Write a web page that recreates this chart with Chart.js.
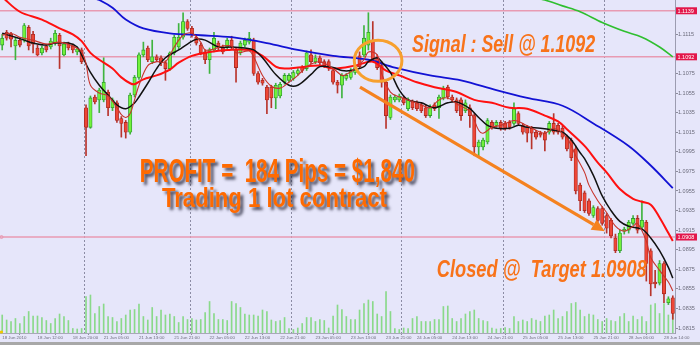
<!DOCTYPE html>
<html><head><meta charset="utf-8">
<script src="https://cdn.jsdelivr.net/npm/chart.js@4.4.1/dist/chart.umd.min.js"></script>
<style>html,body{margin:0;padding:0;background:#e6e6fa;overflow:hidden}canvas{display:block}</style>
</head><body>
<canvas id="c" width="700" height="345"></canvas>
<script>
// ---- EURUSD H1 candles ----
const candleOpen = [
1.1104,1.1117,1.1115,1.1103,1.1109,1.1109,1.1122,1.1115,1.1101,1.1096,
1.1103,1.1102,1.1106,1.1114,1.1094,1.1106,1.1103,1.1097,1.1099,1.1040,
1.1020,1.1051,1.1048,1.1048,1.1056,1.1040,1.1045,1.1029,1.1025,1.1015,
1.1053,1.1071,1.1094,1.1101,1.1087,1.1092,1.1091,1.1086,1.1080,1.1096,
1.1102,1.1112,1.1128,1.1121,1.1112,1.1104,1.1097,1.1089,1.1099,1.1106,
1.1102,1.1102,1.1109,1.1099,1.1096,1.1104,1.1107,1.1109,1.1075,1.1068,
1.1061,1.1061,1.1050,1.1052,1.1066,1.1068,1.1070,1.1075,1.1081,1.1080,
1.1094,1.1087,1.1091,1.1087,1.1087,1.1078,1.1066,1.1063,1.1070,1.1071,
1.1076,1.1093,1.1094,1.1104,1.1109,1.1091,1.1083,1.1066,1.1030,1.1048,
1.1048,1.1050,1.1039,1.1046,1.1045,1.1043,1.1040,1.1032,1.1043,1.1040,
1.1050,1.1061,1.1051,1.1048,1.1048,1.1037,1.1040,1.1032,1.1000,1.1000,
1.1005,1.1025,1.1022,1.1025,1.1024,1.1025,1.1024,1.1034,1.1022,1.1020,
1.1019,1.1015,1.1014,1.1014,1.1015,1.1024,1.1022,1.1019,1.1010,1.1007,
1.0998,1.0961,1.0953,1.0945,1.0930,1.0937,1.0937,1.0930,1.0925,1.0907,
1.0894,1.0914,1.0915,1.0922,1.0927,1.0918,1.0923,1.0894,1.0862,1.0861,
1.0881,1.0841,1.0846];
const candleHigh = [
1.1115,1.1119,1.1117,1.1111,1.1112,1.1126,1.1124,1.1118,1.1104,1.1103,
1.1105,1.1111,1.1119,1.1116,1.1107,1.1107,1.1105,1.1102,1.1101,1.1043,
1.1052,1.1053,1.1060,1.1091,1.1058,1.1050,1.1047,1.1031,1.1027,1.1055,
1.1073,1.1096,1.1107,1.1103,1.1109,1.1094,1.1093,1.1088,1.1097,1.1114,
1.1126,1.1137,1.1130,1.1123,1.1114,1.1106,1.1099,1.1101,1.1117,1.1108,
1.1104,1.1111,1.1113,1.1101,1.1108,1.1111,1.1117,1.1111,1.1077,1.1070,
1.1063,1.1063,1.1065,1.1066,1.1075,1.1075,1.1078,1.1080,1.1083,1.1098,
1.1099,1.1094,1.1093,1.1089,1.1089,1.1080,1.1068,1.1075,1.1075,1.1080,
1.1083,1.1097,1.1124,1.1137,1.1128,1.1094,1.1087,1.1068,1.1053,1.1053,
1.1054,1.1052,1.1050,1.1048,1.1047,1.1045,1.1043,1.1043,1.1045,1.1053,
1.1062,1.1063,1.1053,1.1050,1.1050,1.1048,1.1043,1.1034,1.1007,1.1009,
1.1029,1.1027,1.1027,1.1027,1.1026,1.1027,1.1045,1.1036,1.1024,1.1022,
1.1021,1.1017,1.1016,1.1016,1.1026,1.1034,1.1024,1.1021,1.1012,1.1009,
1.1001,1.0963,1.0955,1.0947,1.0940,1.0939,1.0939,1.0932,1.0927,1.0911,
1.0915,1.0918,1.0925,1.0930,1.0930,1.0945,1.0925,1.0896,1.0874,1.0884,
1.0883,1.0847,1.0848];
const candleLow = [
1.1099,1.1109,1.1102,1.1089,1.1102,1.1107,1.1099,1.1096,1.1093,1.1094,
1.1097,1.1100,1.1104,1.1080,1.1093,1.1099,1.1096,1.1094,1.1085,1.0991,
1.1019,1.1044,1.1035,1.1046,1.1032,1.1037,1.1025,1.1010,1.1009,1.1013,
1.1051,1.1069,1.1092,1.1087,1.1085,1.1087,1.1083,1.1068,1.1078,1.1094,
1.1100,1.1110,1.1119,1.1112,1.1104,1.1094,1.1085,1.1075,1.1097,1.1099,
1.1095,1.1100,1.1100,1.1066,1.1094,1.1102,1.1105,1.1073,1.1064,1.1063,
1.1034,1.1040,1.1039,1.1050,1.1064,1.1066,1.1068,1.1073,1.1076,1.1078,
1.1085,1.1085,1.1083,1.1081,1.1078,1.1064,1.1055,1.1050,1.1068,1.1069,
1.1074,1.1080,1.1092,1.1099,1.1087,1.1079,1.1061,1.1019,1.1028,1.1046,
1.1046,1.1043,1.1037,1.1038,1.1037,1.1035,1.1030,1.1030,1.1037,1.1029,
1.1048,1.1049,1.1046,1.1035,1.1027,1.1035,1.1020,1.0991,1.0989,1.0997,
1.1003,1.1018,1.1020,1.1017,1.1017,1.1018,1.1022,1.1022,1.1013,1.1005,
1.0998,1.1008,1.1010,1.0996,1.1013,1.1013,1.1013,1.1008,1.0996,1.0986,
1.0952,1.0935,1.0933,1.0930,1.0928,1.0923,1.0920,1.0912,1.0907,1.0892,
1.0892,1.0911,1.0912,1.0920,1.0912,1.0916,1.0863,1.0848,1.0856,1.0859,
1.0841,1.0839,1.0824];
const candleClose = [
1.1111,1.1111,1.1110,1.1109,1.1104,1.1124,1.1103,1.1105,1.1094,1.1101,
1.1099,1.1108,1.1116,1.1103,1.1105,1.1101,1.1099,1.1100,1.1087,1.1020,
1.1050,1.1046,1.1058,1.1066,1.1040,1.1048,1.1027,1.1024,1.1015,1.1053,
1.1071,1.1094,1.1099,1.1089,1.1092,1.1089,1.1086,1.1080,1.1096,1.1112,
1.1112,1.1128,1.1121,1.1114,1.1106,1.1096,1.1089,1.1099,1.1111,1.1101,
1.1097,1.1109,1.1102,1.1081,1.1106,1.1109,1.1111,1.1075,1.1066,1.1065,
1.1048,1.1050,1.1063,1.1064,1.1073,1.1073,1.1076,1.1078,1.1078,1.1096,
1.1087,1.1091,1.1086,1.1083,1.1081,1.1066,1.1063,1.1073,1.1073,1.1078,
1.1081,1.1082,1.1111,1.1117,1.1089,1.1081,1.1066,1.1032,1.1051,1.1051,
1.1052,1.1045,1.1048,1.1040,1.1039,1.1037,1.1032,1.1040,1.1039,1.1051,
1.1060,1.1051,1.1048,1.1037,1.1032,1.1045,1.1032,1.1000,1.1005,1.1007,
1.1027,1.1020,1.1025,1.1019,1.1019,1.1020,1.1039,1.1024,1.1015,1.1014,
1.1014,1.1010,1.1012,1.1007,1.1024,1.1015,1.1015,1.1010,1.0998,1.0989,
1.0955,1.0945,1.0935,1.0932,1.0938,1.0925,1.0922,1.0917,1.0909,1.0894,
1.0912,1.0916,1.0923,1.0927,1.0915,1.0925,1.0881,1.0860,1.0860,1.0881,
1.0850,1.0845,1.0830];
const volume = [
1800,1300,1150,1450,950,1650,2150,1700,1700,1550,
1250,950,1450,1900,1650,1250,450,400,450,3650,
3800,1950,2650,2900,1650,1550,1150,1450,1800,2300,
2350,2900,1650,1300,2550,1650,2300,1800,1900,1650,
1050,1650,1350,1450,1300,1350,2050,3150,1950,1350,
1350,1250,3150,2950,2550,1900,1800,1800,1700,2300,
2150,1300,1150,1250,1550,450,350,500,950,1550,
1550,1150,1350,1250,500,1700,2800,2350,1650,1350,
1350,2300,2950,3300,3150,1900,1650,4150,2150,450,
350,500,450,1450,1650,1150,1150,1150,1350,1350,
2650,2700,1450,1150,1450,1900,2150,2300,1450,1250,
1150,500,400,450,550,450,1650,1150,1300,1150,
1450,1300,1150,1700,1800,2300,1450,1650,2150,2950,
3050,2300,1650,1900,1800,1350,1150,1450,1250,1150,
1650,1950,1150,1700,1350,1650,1150,2800,2950,1950,
2950,1800,2950];

const maFastIdx = [0,2,4,7,10,13,16,18,19,20,22,24,26,27,28,29,30,31,33,35,37,39,41,43,45,46,48,50,52,53,56,57,59,61,63,65,67,69,72,75,77,78,80,82,83,85,86,88,90,92,95,97,99,101,103,106,108,109,111,113,116,118,121,123,125,128,130,132,133,135,137,139,141,143,144,146,147,149,151,152];
const maFastVal = [1.1114,1.1116,1.1112,1.1109,1.1105,1.1107,1.1103,1.1097,1.1085,1.1063,1.1055,1.1052,1.1040,1.1033,1.1030,1.1034,1.1048,1.1063,1.1083,1.1087,1.1087,1.1102,1.1114,1.1116,1.1107,1.1099,1.1100,1.1103,1.1103,1.1096,1.1098,1.1092,1.1073,1.1062,1.1060,1.1066,1.1073,1.1082,1.1087,1.1080,1.1073,1.1074,1.1080,1.1089,1.1097,1.1094,1.1075,1.1056,1.1051,1.1048,1.1043,1.1040,1.1048,1.1050,1.1044,1.1036,1.1017,1.1014,1.1020,1.1022,1.1027,1.1024,1.1017,1.1014,1.1019,1.1009,1.0991,1.0974,1.0961,1.0945,1.0933,1.0919,1.0914,1.0919,1.0922,1.0904,1.0887,1.0874,1.0862,1.0853];
const maBlackIdx = [0,3,5,7,10,12,15,17,18,20,22,24,26,28,30,31,33,35,37,40,42,44,46,49,52,55,57,59,62,65,67,70,72,75,77,79,82,83,85,86,88,90,92,95,98,101,103,106,108,110,112,115,117,119,122,125,127,129,131,132,134,136,138,140,142,145,147,149,151,152];
const maBlackVal = [1.1116,1.1112,1.1109,1.1106,1.1104,1.1106,1.1106,1.1102,1.1094,1.1076,1.1063,1.1053,1.1043,1.1039,1.1045,1.1051,1.1065,1.1080,1.1091,1.1099,1.1105,1.1110,1.1109,1.1102,1.1102,1.1101,1.1099,1.1091,1.1074,1.1063,1.1063,1.1074,1.1082,1.1081,1.1078,1.1078,1.1082,1.1087,1.1091,1.1087,1.1076,1.1058,1.1048,1.1045,1.1040,1.1045,1.1046,1.1039,1.1030,1.1022,1.1019,1.1019,1.1022,1.1020,1.1019,1.1017,1.1015,1.1007,1.0994,1.0988,1.0971,1.0950,1.0935,1.0924,1.0919,1.0916,1.0907,1.0894,1.0877,1.0866];
const maRedIdx = [0,4,9,13,16,18,20,22,25,27,29,30,32,35,38,40,43,47,51,56,59,62,64,67,72,75,80,84,87,90,94,98,103,107,111,115,119,123,126,128,132,135,137,140,143,145,147,149,151,152];
const maRedVal = [1.1153,1.1138,1.1130,1.1121,1.1115,1.1108,1.1096,1.1089,1.1080,1.1071,1.1065,1.1064,1.1069,1.1073,1.1079,1.1086,1.1093,1.1097,1.1099,1.1099,1.1093,1.1082,1.1080,1.1081,1.1083,1.1080,1.1083,1.1087,1.1078,1.1073,1.1066,1.1061,1.1056,1.1048,1.1045,1.1040,1.1039,1.1032,1.1026,1.1018,1.1001,1.0984,1.0974,1.0957,1.0947,1.0944,1.0941,1.0928,1.0912,1.0904];
const maBlueIdx = [18,20,22,25,28,32,38,45,52,60,67,75,83,89,97,104,112,119,127,134,142,147,152];
const maBlueVal = [1.1163,1.1153,1.1150,1.1142,1.1130,1.1121,1.1116,1.1114,1.1112,1.1106,1.1099,1.1093,1.1089,1.1081,1.1073,1.1068,1.1058,1.1050,1.1042,1.1024,1.1001,1.0981,1.0958];
const maGreenIdx = [119,121,123,127,131,136,141,145,149,152];
const maGreenVal = [1.1156,1.1152,1.1150,1.1144,1.1138,1.1127,1.1118,1.1112,1.1102,1.1092];

// ---- axes ----
const xTickIndex = [0,8,16,23,31,39,47,55,63,71,79,87,94,102,110,118,126,134,142,150];
const xTickText = ['18 Jun 2010','18 Jun 12:00','18 Jun 20:00','21 Jun 05:00','21 Jun 13:00','21 Jun 21:00','22 Jun 05:00','22 Jun 13:00','22 Jun 21:00','23 Jun 05:00','23 Jun 13:00','23 Jun 21:00','24 Jun 05:00','24 Jun 13:00','24 Jun 21:00','25 Jun 05:00','25 Jun 13:00','25 Jun 21:00','28 Jun 06:00','28 Jun 14:00'];
const dayStartIndex = [19,43,66,91,114,137];
const yTickValues = [1.1115,1.1075,1.1055,1.1035,1.1015,1.0995,1.0975,1.0955,1.0935,1.0915,1.0895,1.0875,1.0855,1.0835,1.0815];
const levelLines = [1.1139,1.1092,1.0908];
const priceMin = 1.0810, priceMax = 1.1150;

// ---- annotations (in data coordinates) ----
const signalCircle = {x: 85.2, y: 1.1088, rx: 5.4, ry: 0.0021};
const trendArrow = {x1: 81.1, y1: 1.1061, x2: 136.6, y2: 1.0914};
const notes = [
  {text: 'Signal : Sell @ 1.1092', x: 92.9, y: 1.1097, font: 'italic bold 23px "Liberation Sans"', width: 183, shadow: false},
  {text: 'Closed @  Target 1.0908', x: 98.5, y: 1.0867, font: 'italic bold 23px "Liberation Sans"', width: 210, shadow: false},
  {text: 'PROFIT =  184 Pips = $1,840', x: 31.2, y: 1.0964, font: 'bold 33px "Liberation Sans"', width: 275, shadow: true},
  {text: 'Trading 1 lot contract', x: 36.2, y: 1.0939, font: 'bold 27px "Liberation Sans"', width: 225, shadow: true}
];

const isUp = i => candleClose[i] >= candleOpen[i];
const pts = (ix, vals) => ix.map((x, k) => ({x, y: vals[k]}));

const overlay = {
  id: 'overlay',
  beforeDraw(chart) {
    const {ctx, width, height} = chart;
    ctx.save();
    ctx.fillStyle = '#e6e6fa';
    ctx.fillRect(0, 0, width, height);
    ctx.restore();
  },
  beforeDatasetsDraw(chart) {
    const {ctx, chartArea: a, scales: {x, y}} = chart;
    ctx.save();
    ctx.strokeStyle = '#8c8ca4';
    ctx.lineWidth = 1;
    ctx.setLineDash([2, 2]);
    dayStartIndex.forEach(d => {
      const px = Math.round(x.getPixelForValue(d - 0.5)) + 0.5;
      ctx.beginPath(); ctx.moveTo(px, a.top); ctx.lineTo(px, a.bottom); ctx.stroke();
    });
    ctx.setLineDash([]);
    ctx.strokeStyle = '#e89ab2';
    ctx.lineWidth = 1.6;
    levelLines.forEach(v => {
      const py = y.getPixelForValue(v);
      ctx.beginPath(); ctx.moveTo(a.left, py); ctx.lineTo(a.right, py); ctx.stroke();
    });
    const py = y.getPixelForValue(levelLines[2]);
    ctx.lineWidth = 1; ctx.beginPath(); ctx.arc(a.left + 1.5, py, 1.5, 0, Math.PI * 2); ctx.stroke();
    ctx.restore();
  },
  afterDraw(chart) {
    const {ctx, chartArea: a, scales: {x, y}} = chart;
    ctx.save();
    const cx = x.getPixelForValue(signalCircle.x), cy = y.getPixelForValue(signalCircle.y);
    const rx = Math.abs(x.getPixelForValue(signalCircle.x + signalCircle.rx) - cx);
    const ry = Math.abs(y.getPixelForValue(signalCircle.y + signalCircle.ry) - cy);
    ctx.strokeStyle = '#f7a02e'; ctx.lineWidth = 3;
    ctx.beginPath(); ctx.ellipse(cx, cy, rx, ry, 0, 0, Math.PI * 2); ctx.stroke();
    const x1 = x.getPixelForValue(trendArrow.x1), y1 = y.getPixelForValue(trendArrow.y1);
    const x2 = x.getPixelForValue(trendArrow.x2), y2 = y.getPixelForValue(trendArrow.y2);
    const ang = Math.atan2(y2 - y1, x2 - x1), c = Math.cos(ang), s = Math.sin(ang);
    const hl = 13, hw = 6;
    ctx.strokeStyle = '#f5821f'; ctx.fillStyle = '#f5821f'; ctx.lineWidth = 3.2;
    ctx.beginPath(); ctx.moveTo(x1, y1); ctx.lineTo(x2 - hl * c, y2 - hl * s); ctx.stroke();
    ctx.beginPath(); ctx.moveTo(x2, y2);
    ctx.lineTo(x2 - hl * c + hw * s, y2 - hl * s - hw * c);
    ctx.lineTo(x2 - hl * c - hw * s, y2 - hl * s + hw * c);
    ctx.closePath(); ctx.fill();
    notes.forEach(n => {
      ctx.save();
      ctx.font = n.font;
      ctx.textBaseline = 'alphabetic';
      ctx.textAlign = 'left';
      if (n.shadow) {
        ctx.shadowColor = 'rgba(30,30,50,0.75)';
        ctx.shadowOffsetX = 3; ctx.shadowOffsetY = 3; ctx.shadowBlur = 3;
        ctx.fillStyle = '#ff6a00';
      } else {
        ctx.fillStyle = '#f8731a';
      }
      ctx.fillText(n.text, x.getPixelForValue(n.x), y.getPixelForValue(n.y), n.width);
      ctx.restore();
    });
    ctx.font = '5.5px "Liberation Sans"';
    ctx.textBaseline = 'middle';
    levelLines.forEach(v => {
      const py = y.getPixelForValue(v);
      ctx.fillStyle = '#e3164a';
      ctx.fillRect(a.right + 1, py - 3.5, 21, 7);
      ctx.fillStyle = '#ffffff';
      ctx.fillText(v.toFixed(4), a.right + 2.5, py + 0.3);
    });
    ctx.fillStyle = '#f0c800';
    ctx.beginPath(); ctx.arc(1.5, a.bottom - 1, 1.6, 0, Math.PI * 2); ctx.fill();
    ctx.fillStyle = '#a8a8a8';
    ctx.fillRect(0, 342, chart.width, 3);
    ctx.restore();
  }
};

new Chart(document.getElementById('c'), {
  type: 'bar',
  data: {
    datasets: [
      {type: 'line', label: 'MA fast', data: pts(maFastIdx, maFastVal), borderColor: '#c8342c', borderWidth: 1.1, pointRadius: 0, tension: 0.35, yAxisID: 'y', order: 1},
      {type: 'line', label: 'MA black', data: pts(maBlackIdx, maBlackVal), borderColor: '#111111', borderWidth: 1.5, pointRadius: 0, tension: 0.35, yAxisID: 'y', order: 2},
      {type: 'line', label: 'MA red', data: pts(maRedIdx, maRedVal), borderColor: '#ff1010', borderWidth: 2, pointRadius: 0, tension: 0.35, yAxisID: 'y', order: 3},
      {type: 'line', label: 'MA blue', data: pts(maBlueIdx, maBlueVal), borderColor: '#1212d4', borderWidth: 1.8, pointRadius: 0, tension: 0.35, yAxisID: 'y', order: 4},
      {type: 'line', label: 'MA green', data: pts(maGreenIdx, maGreenVal), borderColor: '#2fbf2f', borderWidth: 1.6, pointRadius: 0, tension: 0.35, yAxisID: 'y', order: 5},
      {label: 'Body', data: candleOpen.map((o, i) => ({x: i, y: [o, candleClose[i]]})), yAxisID: 'y', grouped: false,
       barPercentage: 1, categoryPercentage: 1, maxBarThickness: 3.4, borderWidth: 0.8, borderSkipped: false,
       backgroundColor: ctx => isUp(ctx.dataIndex) ? '#72f23c' : '#ee4636',
       borderColor: ctx => isUp(ctx.dataIndex) ? '#2e9a2e' : '#a82a22', order: 8},
      {label: 'Wick', data: candleLow.map((l, i) => ({x: i, y: [l, candleHigh[i]]})), yAxisID: 'y', grouped: false,
       barPercentage: 1, categoryPercentage: 1, maxBarThickness: 1,
       backgroundColor: ctx => isUp(ctx.dataIndex) ? '#3fb43f' : '#b8342c', order: 9},
      {label: 'Volume', data: volume.map((v, i) => ({x: i, y: v})), yAxisID: 'yv', grouped: false,
       barPercentage: 1, categoryPercentage: 1, maxBarThickness: 1, backgroundColor: '#8ad98a', order: 10}
    ]
  },
  options: {
    responsive: false, animation: false, devicePixelRatio: 1, events: [],
    layout: {padding: 0, autoPadding: false},
    plugins: {legend: {display: false}, tooltip: {enabled: false}, title: {display: false}},
    scales: {
      x: {
        type: 'linear', min: -0.5, max: 152.5, offset: false,
        afterBuildTicks: s => { s.ticks = xTickIndex.map(v => ({value: v})); },
        afterFit: s => { s.height = 12; s.paddingLeft = 0; s.paddingRight = 0; },
        ticks: {autoSkip: false, maxRotation: 0, minRotation: 0, align: 'start', padding: 0, color: '#6c6c7c',
                font: {family: 'Liberation Sans', size: 4.4}, callback: (v, i) => xTickText[i]},
        grid: {drawOnChartArea: false, drawTicks: true, tickLength: 2, color: '#8c8c9c'},
        border: {display: true, color: '#a8a8b8'}
      },
      y: {
        type: 'linear', position: 'right', min: priceMin, max: priceMax,
        afterBuildTicks: s => { s.ticks = yTickValues.map(v => ({value: v})); },
        afterFit: s => { s.width = 25; s.paddingTop = 0; s.paddingBottom = 0; },
        ticks: {padding: 0, color: '#6c6c7c', font: {family: 'Liberation Sans', size: 5.5}, callback: v => v.toFixed(4)},
        grid: {drawOnChartArea: false, drawTicks: true, tickLength: 3, color: '#8c8c9c'},
        border: {display: true, color: '#9c9cb0'}
      },
      yv: {type: 'linear', display: false, min: 0, max: 33300}
    }
  },
  plugins: [overlay]
});
</script>
</body></html>
